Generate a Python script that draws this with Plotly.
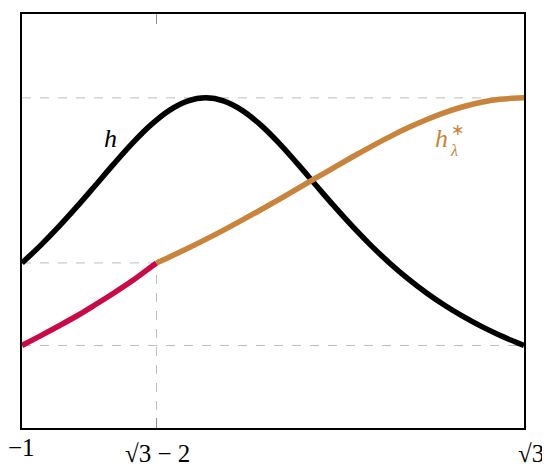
import plotly.graph_objects as go

SQ3 = 1.7320508
X0 = SQ3 - 2  # junction point

# black curve h
h_x = [-1.0, -0.9, -0.8, -0.7, -0.6, -0.5, -0.4, -0.3, -0.2, -0.1, 0.0,
       0.1, 0.2, 0.3, 0.4, 0.5, 0.6, 0.7, 0.8, 0.9, 1.0, 1.1, 1.2, 1.3,
       1.4, 1.5, 1.6, 1.7, SQ3]
h_y = [0.5, 0.5525, 0.6098, 0.6711, 0.7353, 0.8, 0.8621, 0.9174, 0.9615,
       0.9901, 1.0, 0.9901, 0.9615, 0.9174, 0.8621, 0.8, 0.7353, 0.6711,
       0.6098, 0.5525, 0.5, 0.4525, 0.4098, 0.3717, 0.3378, 0.3077, 0.2809,
       0.2571, 0.25]

# red part (x < sqrt3 - 2)
red_x = [-1.0, -0.9, -0.8, -0.7, -0.6, -0.5, -0.4, -0.3, X0]
red_y = [0.25, 0.279, 0.309, 0.340, 0.374, 0.409, 0.446, 0.487, 0.5]

# orange part h*_lambda (x > sqrt3 - 2)
or_x = [X0, -0.2, -0.1, 0.0, 0.1, 0.2, 0.3, 0.4, 0.5, 0.6, 0.7, 0.8, 0.9,
        1.0, 1.1, 1.2, 1.3, 1.4, 1.5, 1.6, 1.7, SQ3]
or_y = [0.5, 0.5173, 0.5437, 0.5714, 0.6003, 0.6302, 0.6611, 0.6927, 0.7249,
        0.7574, 0.7897, 0.8216, 0.8525, 0.8819, 0.9092, 0.9339, 0.9554,
        0.9731, 0.9867, 0.9956, 0.9997, 1.0]

tick_vals = [-1.0, X0, SQ3]
tick_text = ["−1", "√3 − 2", "√3"]

ref_full = [1.0, 0.25]   # full-width dashed levels
ref_join = 0.5           # dashed level up to junction

BLACK = "#000000"
ORANGE = "#C8843C"
RED = "#C80A46"
GRID = "#BDBDBD"
LW = 5.5

fig = go.Figure()
fig.add_trace(go.Scatter(x=h_x, y=h_y, mode="lines",
                         line=dict(color=BLACK, width=LW, shape="spline")))
fig.add_trace(go.Scatter(x=red_x, y=red_y, mode="lines",
                         line=dict(color=RED, width=LW, shape="spline")))
fig.add_trace(go.Scatter(x=or_x, y=or_y, mode="lines",
                         line=dict(color=ORANGE, width=LW, shape="spline")))

shapes = []
for lv in ref_full:
    shapes.append(dict(type="line", xref="x", yref="y", x0=h_x[0], x1=h_x[-1],
                       y0=lv, y1=lv, line=dict(color=GRID, width=1, dash="dash"),
                       layer="below"))
shapes.append(dict(type="line", xref="x", yref="y", x0=h_x[0], x1=X0,
                   y0=ref_join, y1=ref_join,
                   line=dict(color=GRID, width=1, dash="dash"), layer="below"))
shapes.append(dict(type="line", xref="x", yref="y", x0=X0, x1=X0,
                   y0=0, y1=ref_join,
                   line=dict(color=GRID, width=1, dash="dash"), layer="below"))

serif = "Liberation Serif"
annotations = [
    dict(x=-0.52, y=0.876, xref="x", yref="y", text="<i>h</i>", showarrow=False,
         font=dict(family=serif, size=26, color=BLACK)),
    dict(x=1.322, y=0.877, xref="x", yref="y", text="<i>h</i>", showarrow=False,
         xanchor="right", borderpad=0,
         font=dict(family=serif, size=26, color=ORANGE)),
    dict(x=1.322, y=0.877, xref="x", yref="y", text="∗<br><i>λ</i>",
         showarrow=False, xanchor="left", align="left", xshift=0, yshift=-2,
         borderpad=0, font=dict(family=serif, size=16, color=ORANGE)),
]

# tick labels as annotations (individual vertical placement as in reference)
tick_shift = [(-1, -4), (1, -10), (7, -10)]
for v, t, (dx, dy) in zip(tick_vals, tick_text, tick_shift):
    annotations.append(dict(x=v, y=0, xref="x", yref="y", text=t,
                            showarrow=False, yanchor="top", xshift=dx,
                            yshift=dy,
                            font=dict(family=serif, size=25, color=BLACK)))

fig.update_layout(
    width=550, height=471,
    margin=dict(l=14, r=34, t=4, b=51),
    paper_bgcolor="white", plot_bgcolor="white",
    showlegend=False,
    shapes=shapes, annotations=annotations,
    xaxis=dict(range=[-1.0, SQ3], tickvals=tick_vals, showticklabels=False,
               showgrid=False, zeroline=False, showline=True, linecolor=BLACK,
               linewidth=1.5, mirror="ticks", ticks="inside", ticklen=10,
               tickcolor="#8c8c8c", tickwidth=1),
    yaxis=dict(range=[0, 1.254], showgrid=False, zeroline=False,
               showticklabels=False, ticks="", showline=True,
               linecolor=BLACK, linewidth=1.5, mirror=True),
)

fig.write_html("out.html")
